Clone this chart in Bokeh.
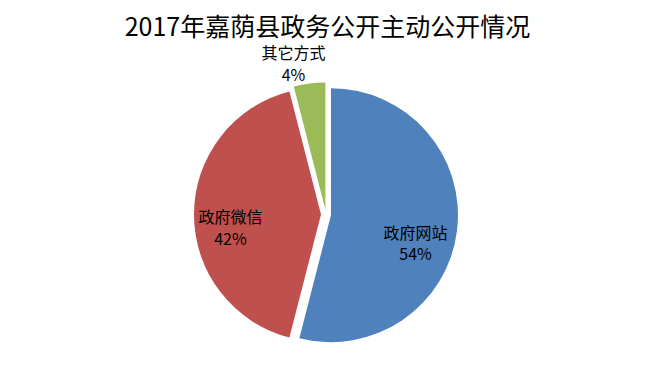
import numpy as np
from bokeh.plotting import figure
from bokeh.models import Range1d, Label, ColumnDataSource
from bokeh.core.properties import value
from bokeh.embed import file_html
from bokeh.resources import INLINE

# ---- data ----
title_text = "2017年嘉荫县政务公开主动公开情况"
categories = ["政府网站", "政府微信", "其它方式"]
values = [54, 42, 4]
colors = ["#4F81BD", "#C0504D", "#9BBB59"]

# ---- layout ----
W, H = 643, 363
R_PX = 127.0                 # pie radius in px (1 data unit)
CX, CY = 325.5, 214.0        # pie centre in px from the top-left of the figure
EXPLODE = 5.0 / R_PX         # slice explosion (data units)
label_r = [0.70, 0.72, 1.18]         # label distance from slice centre (radius units)
label_dtheta = [10.8, -7.9, -5.1]    # label angle nudge (degrees)
FONT = "Noto Sans CJK SC"

vals = np.array(values, dtype=float)
frac = vals / vals.sum()
t_end = np.cumsum(frac) * 2 * np.pi          # clockwise from 12 o'clock
t_start = t_end - frac * 2 * np.pi
t_mid = (t_start + t_end) / 2

cx = EXPLODE * np.sin(t_mid)
cy = EXPLODE * np.cos(t_mid)

src = ColumnDataSource(dict(
    x=cx, y=cy,
    sa=np.pi / 2 - t_end, ea=np.pi / 2 - t_start,
    color=colors,
))

lt = t_mid + np.radians(label_dtheta)
lx = cx + np.array(label_r) * np.sin(lt)
ly = cy + np.array(label_r) * np.cos(lt)
pct = [f"{f * 100:.0f}%" for f in frac]
lab_src = ColumnDataSource(dict(
    x=lx, y=ly, text=[f"{c}\n{p}" for c, p in zip(categories, pct)],
))

p = figure(width=W, height=H, output_backend="svg", toolbar_location=None,
           x_range=Range1d(-CX / R_PX, (W - CX) / R_PX),
           y_range=Range1d(-(H - CY) / R_PX, CY / R_PX),
           x_axis_type=None, y_axis_type=None, min_border=0)
p.grid.visible = False
p.outline_line_color = None
p.background_fill_color = "white"
p.border_fill_color = "white"

p.wedge(x="x", y="y", radius=1, start_angle="sa", end_angle="ea",
        direction="anticlock", fill_color="color", line_color=None, source=src)

p.text(x="x", y="y", text="text", source=lab_src,
       text_align="center", text_baseline="middle",
       text_font=value(FONT), text_font_size="16px", text_line_height=0.9,
       text_color="#000000")

p.add_layout(Label(x=327, y=H - 24, x_units="screen", y_units="screen",
                   text=title_text, text_align="center", text_baseline="middle",
                   text_font=FONT, text_font_size="25px", text_color="#000000"))

open("out.html", "w").write(file_html(p, INLINE))
